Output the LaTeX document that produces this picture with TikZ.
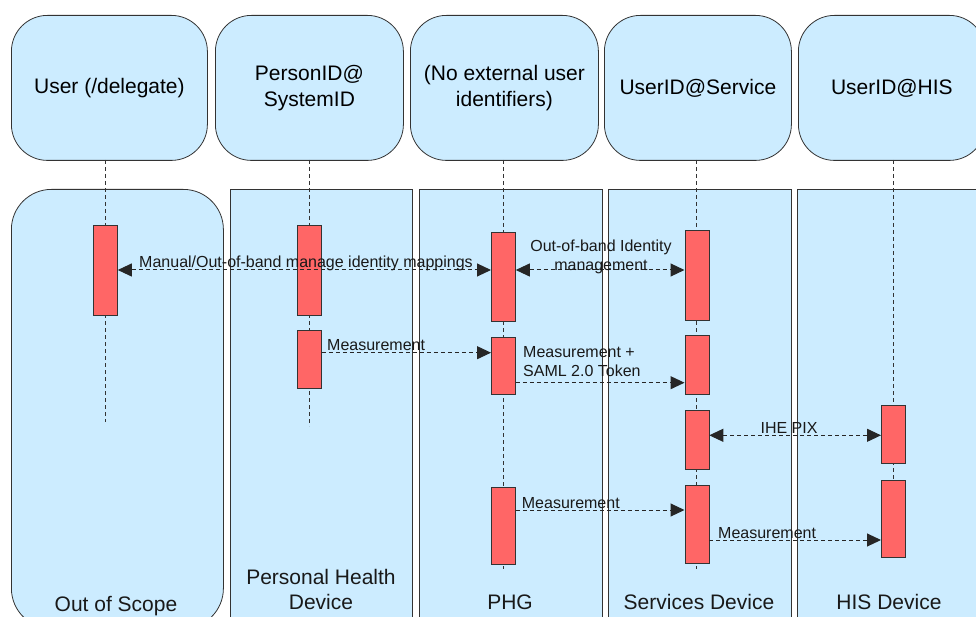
\documentclass[tikz,border=0pt]{standalone}
\usepackage{fontspec}
\setmainfont{Liberation Sans}
\usetikzlibrary{arrows.meta,calc}
\definecolor{lanefill}{HTML}{CCECFF}
\definecolor{actfill}{HTML}{FF6666}
\definecolor{edgecol}{HTML}{333333}
\begin{document}
\begin{tikzpicture}[x=1pt,y=-1pt,
  hdr/.style={draw=edgecol, line width=0.8pt, fill=lanefill, rounded corners=36pt, inner sep=0pt, anchor=north west, minimum height=145pt, font=\fontsize{21}{25.5}\selectfont, align=center},
  lanebox/.style={draw=edgecol, line width=0.8pt, fill=lanefill, inner sep=0pt, anchor=north west},
  actbox/.style={draw=edgecol, line width=0.8pt, fill=actfill, minimum width=24pt, inner sep=0pt, anchor=north west},
  life/.style={draw=edgecol, dash pattern=on 4pt off 3pt, line width=0.9pt},
  tip/.tip={Triangle[length=14pt,width=13pt]},
  msg/.style={draw=black!85, dash pattern=on 4pt off 3pt, line width=1pt, -tip},
  msgboth/.style={msg, tip-tip},
  lbl/.style={font=\fontsize{16}{19.3}\selectfont, inner sep=0pt, text=black!90},
  lanelbl/.style={font=\fontsize{21}{25.7}\selectfont, inner sep=0pt, align=center, text=black!90}
]
\useasboundingbox (0,0) rectangle (976,617);

% lanes
\node[lanebox, rounded corners=40pt, minimum width=212pt, minimum height=439pt] (oos) at (11,189) {};
\node[lanebox, minimum width=182pt, minimum height=461pt] (phd) at (230,189) {};
\node[lanebox, minimum width=183pt, minimum height=461pt] (phg) at (419,189) {};
\node[lanebox, minimum width=183pt, minimum height=461pt] (svc) at (608,189) {};
\node[lanebox, minimum width=193pt, minimum height=461pt] (his) at (797,189) {};

% lane labels
\node[lanelbl, anchor=base] (oosl) at (116,611.7) {Out of Scope};
\node[lanelbl, anchor=center] (phdl) at (321,589.5) {Personal Health\\Device};
\node[lanelbl, anchor=base] (phgl) at (510,609.3) {PHG};
\node[lanelbl, anchor=base] (svcl) at (699,609) {Services Device};
\node[lanelbl, anchor=base] (hisl) at (889,609) {HIS Device};

% headers
\node[hdr, minimum width=196pt] (h1) at (11,15) {User (/delegate)};
\node[hdr, minimum width=188pt] (h2) at (215,15) {PersonID@\\SystemID};
\node[hdr, minimum width=188pt] (h3) at (410,15) {(No external user\\identifiers)};
\node[hdr, minimum width=187pt] (h4) at (604,15) {UserID@Service};
\node[hdr, minimum width=187pt] (h5) at (798,15) {UserID@HIS};

% lifeline ends
\coordinate (uTop) at (105,160);
\coordinate (uEnd) at (105,421.7);
\coordinate (pTop) at (309,160);
\coordinate (pEnd) at (309,426);
\coordinate (gTop) at (503,160);
\coordinate (gEnd) at (503,569);
\coordinate (sTop) at (696.5,160);
\coordinate (sEnd) at (696.5,569);
\coordinate (hTop) at (893,160);
\coordinate (hEnd) at (893,480);
\draw[life] (uTop) -- (uEnd);
\draw[life] (pTop) -- (pEnd);
\draw[life] (gTop) -- (gEnd);
\draw[life] (sTop) -- (sEnd);
\draw[life] (hTop) -- (hEnd);

% activations
\node[actbox, minimum height=90pt] (uA1) at (93,225) {};
\node[actbox, minimum height=90pt] (pA1) at (297,225) {};
\node[actbox, minimum height=58pt] (pA2) at (297,330) {};
\node[actbox, minimum height=89.3pt] (gA1) at (491,231.7) {};
\node[actbox, minimum height=57.3pt] (gA2) at (491,336.7) {};
\node[actbox, minimum height=77.3pt] (gA3) at (491,486.7) {};
\node[actbox, minimum height=90pt] (sA1) at (684.5,230) {};
\node[actbox, minimum height=58.7pt] (sA2) at (684.5,335) {};
\node[actbox, minimum height=58.7pt] (sA3) at (684.5,410) {};
\node[actbox, minimum height=77.7pt] (sA4) at (684.5,485) {};
\node[actbox, minimum height=58pt] (hA1) at (881,405) {};
\node[actbox, minimum height=77pt] (hA2) at (881,480) {};

% messages
\draw[msgboth] (uA1.east |- 0,270) -- (gA1.west |- 0,270);
\draw[msgboth] (gA1.east |- 0,270) -- (sA1.west |- 0,270);
\draw[msg] (pA2.east |- 0,352.7) -- (gA2.west |- 0,352.7);
\draw[msg] (gA2.east |- 0,382.7) -- (sA2.west |- 0,382.7);
\draw[msgboth] (sA3.east |- 0,435.3) -- (hA1.west |- 0,435.3);
\draw[msg] (gA3.east |- 0,510) -- (sA4.west |- 0,510);
\draw[msg] (sA4.east |- 0,540) -- (hA2.west |- 0,540);

% message labels
\node[lbl, anchor=base] (m1) at (306,268) {Manual/Out-of-band manage identity mappings};
\node[lbl, anchor=center, align=center] (m2) at (601,257.2) {Out-of-band Identity\\management};
\node[lbl, anchor=base west] (m3) at (327,350) {Measurement};
\node[lbl, anchor=west, align=left] (m4) at (523,361.6) {Measurement +\\SAML 2.0 Token};
\node[lbl, anchor=base] (m5) at (789,433.3) {IHE PIX};
\node[lbl, anchor=base west] (m6) at (521.7,508.3) {Measurement};
\node[lbl, anchor=base west] (m7) at (718,538.3) {Measurement};
\end{tikzpicture}
\end{document}
